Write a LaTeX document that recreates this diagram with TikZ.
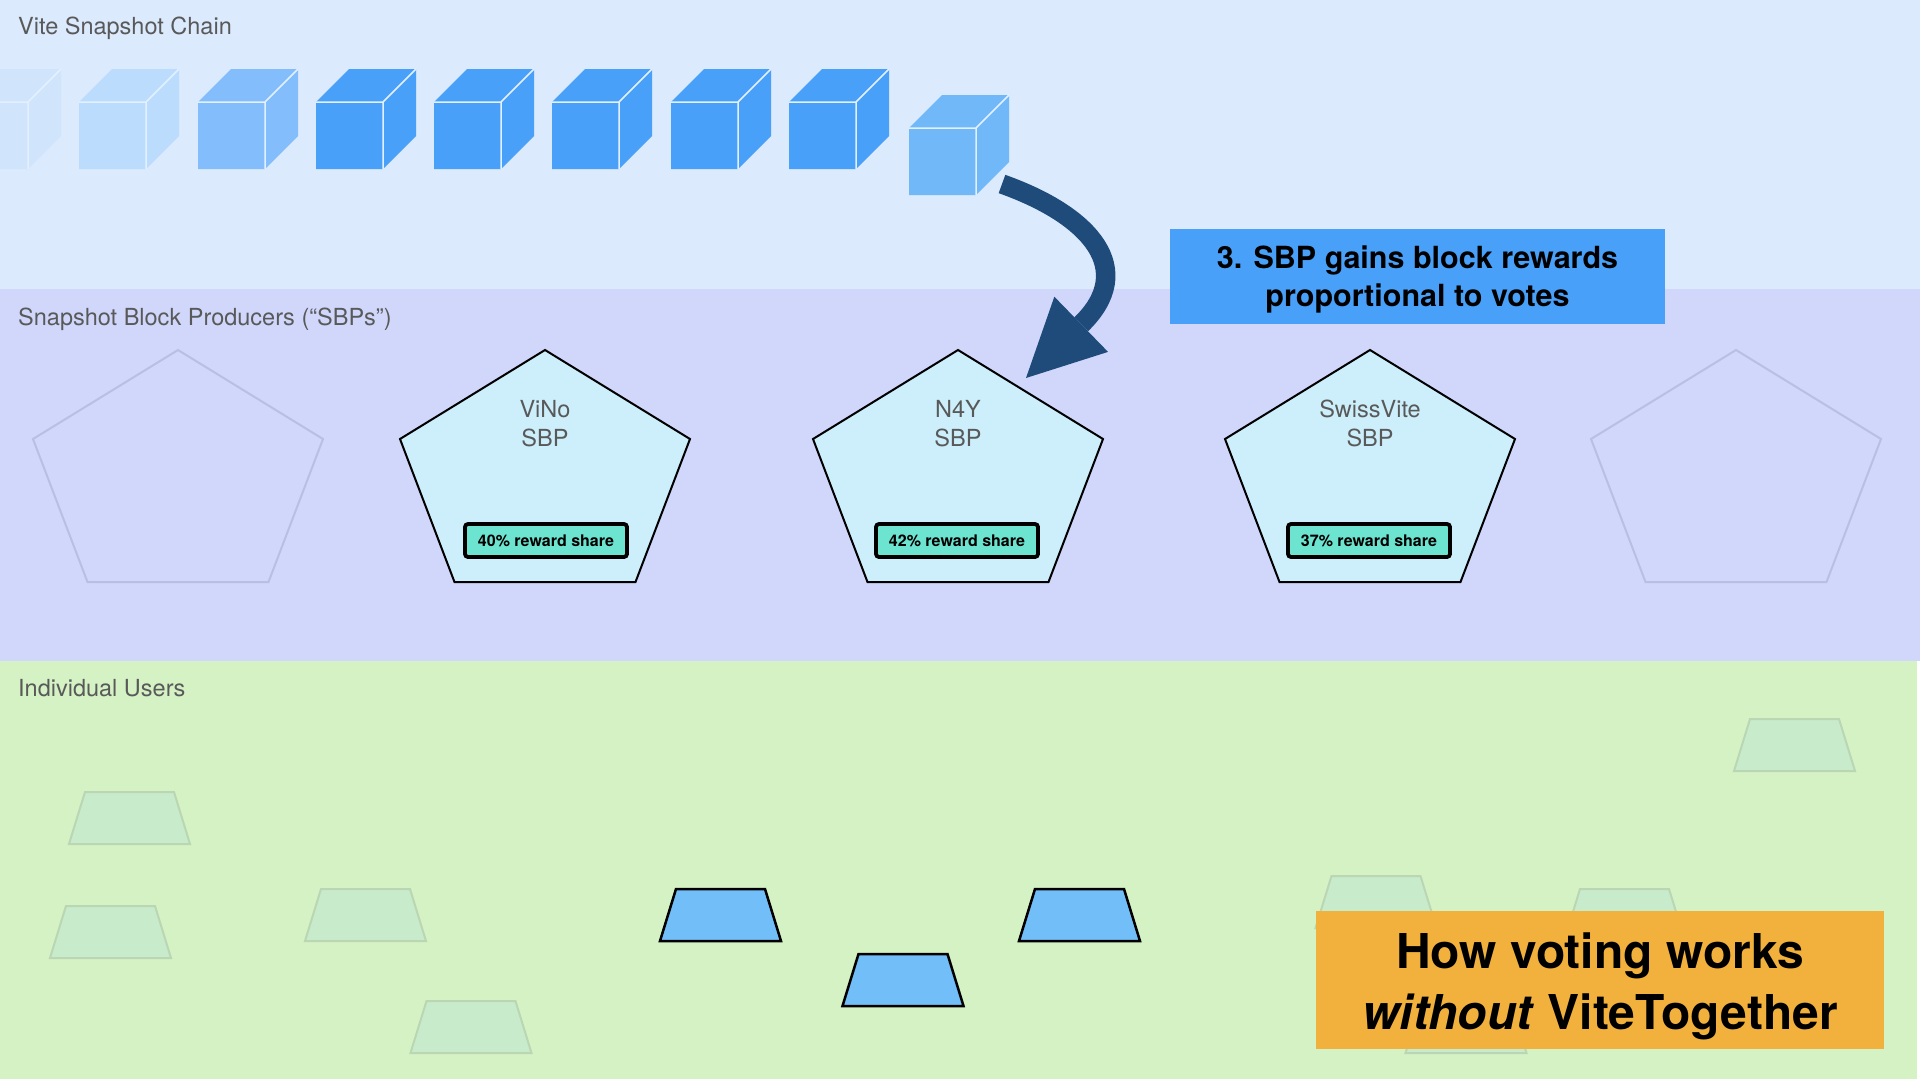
\documentclass[tikz,border=0pt]{standalone}
\usepackage{fontspec}
\setmainfont{TeX Gyre Heros}
\usepackage{xcolor}
\definecolor{colorChainBand}{HTML}{DBEAFD}
\definecolor{colorSbpBand}{HTML}{D0D7FB}
\definecolor{colorUserBand}{HTML}{D5F2C5}
\definecolor{colorBlockOld}{HTML}{D0E4FC}
\definecolor{colorBlockFade}{HTML}{BBDCFD}
\definecolor{colorBlockMid}{HTML}{84BDFB}
\definecolor{colorBlock}{HTML}{49A0F8}
\definecolor{colorBlockNew}{HTML}{71B8F8}
\definecolor{colorBlockEdge}{HTML}{E2F0FF}
\definecolor{colorArrow}{HTML}{1F4B7A}
\definecolor{colorSbp}{HTML}{CCEFFB}
\definecolor{colorSbpFaded}{HTML}{B9BFE3}
\definecolor{colorShare}{HTML}{6DE4D0}
\definecolor{colorUser}{HTML}{71BEF8}
\definecolor{colorUserFaded}{HTML}{C8EBCB}
\definecolor{colorUserFadedLine}{HTML}{BAD6B3}
\definecolor{colorTitle}{HTML}{F2B13C}
\definecolor{colorLabel}{HTML}{595959}
\usepackage{tikz}
\usetikzlibrary{arrows.meta}
\tikzset{
  bandLabel/.style={anchor=base west, inner sep=0pt, text=colorLabel, font=\fontsize{23.5bp}{28bp}\selectfont},
  blockEdge/.style={draw=colorBlockEdge, line width=1.5bp},
  sbp/.style={draw=black, line width=2bp, fill=colorSbp},
  sbpFaded/.style={draw=colorSbpFaded, line width=2bp},
  sbpName/.style={align=center, inner sep=0pt, text=colorLabel, font=\fontsize{23.5bp}{29bp}\selectfont},
  share/.style={draw=black, line width=3.8bp, fill=colorShare, rounded corners=3bp, minimum width=162bp, minimum height=33bp, inner sep=0pt, font=\bfseries\fontsize{16bp}{20bp}\selectfont},
  rewardBox/.style={fill=colorBlock, minimum width=495bp, minimum height=95bp, inner sep=0pt},
  rewardText/.style={align=center, inner sep=0pt, font=\bfseries\fontsize{30.5bp}{38bp}\selectfont},
  rewardArrow/.style={draw=colorArrow, line width=19.5bp, -{Triangle[length=77bp, width=77bp, line width=0pt]}},
  user/.style={draw=black, line width=2.5bp, fill=colorUser},
  userFaded/.style={draw=colorUserFadedLine, line width=2bp, fill=colorUserFaded},
  titleBox/.style={fill=colorTitle, minimum width=568bp, minimum height=138bp, inner sep=0pt},
  titleText/.style={align=center, inner sep=0pt, font=\bfseries\fontsize{48bp}{61bp}\selectfont}
}

\begin{document}
\begin{tikzpicture}[x=1bp, y=-1bp]
\useasboundingbox (0,0) rectangle (1920,1080);
% bands
\fill[colorChainBand] (0,0) rectangle (1920,289);
\fill[colorSbpBand] (0,289) rectangle (1920,661);
\fill[colorUserBand] (0,661) rectangle (1917,1079);
\node[bandLabel] (chainLabel) at (18,34) {Vite Snapshot Chain};
\node[bandLabel] (sbpLabel) at (18,325) {Snapshot Block Producers (“SBPs”)};
\node[bandLabel] (userLabel) at (18,696) {Individual Users};
% snapshot chain
\foreach \x/\y/\c in {-39/102/colorBlockOld, 79/102/colorBlockFade, 198/102/colorBlockMid, 316/102/colorBlock, 434/102/colorBlock, 552/102/colorBlock, 671/102/colorBlock, 789/102/colorBlock, 909/128/colorBlockNew} {
  \fill[\c] (\x,\y+67) -- (\x,\y) -- ++(33,-33) -- ++(67,0) -- ++(0,67) -- ++(-33,33) -- cycle;
  \draw[blockEdge] (\x,\y) -- ++(67,0) -- ++(0,67) (\x+67,\y) -- ++(33,-33);
}
\coordinate (chainTail) at (1002,184);
% producers
\foreach \cx/\s in {178/sbpFaded, 545/sbp, 958/sbp, 1370/sbp, 1736/sbpFaded}
  \draw[\s] (\cx,350) -- ++(145,89) -- ++(-54.5,143) -- ++(-181,0) -- ++(-54.5,-143) -- cycle;
\node[sbpName] (vino) at (545,423.5) {ViNo\\SBP};
\node[sbpName] (n4y) at (958,423.5) {N4Y\\SBP};
\node[sbpName] (swissVite) at (1370,423.5) {SwissVite\\SBP};
\node[share] (vinoShare) at (546,540.5) {40\% reward share};
\node[share] (n4yShare) at (957,540.5) {42\% reward share};
\node[share] (swissShare) at (1369,540.5) {37\% reward share};
\coordinate (n4yTip) at (1026,378);
\draw[rewardArrow] (chainTail) .. controls (1092,216) and (1137,270) .. (n4yTip);
\node[rewardBox] (reward) at (1417.5,276.5) {};
\node[rewardText] (rewardNote) at (1417.5,279) {3. SBP gains block rewards\\proportional to votes};
% users
\foreach \ux/\uy/\s in {129.5/792/userFaded, 110.5/906/userFaded, 365.5/889/userFaded, 471/1001/userFaded, 1794.5/719/userFaded, 1376/876/userFaded, 1624.5/889/userFaded, 1466/1001/userFaded, 720.5/889/user, 903/954/user, 1079.5/889/user}
  \draw[\s] (\ux-44.5,\uy) -- ++(89,0) -- ++(16,52) -- ++(-121,0) -- cycle;
% title
\node[titleBox] (title) at (1600,980) {};
\node[titleText] (titleNote) at (1600,986) {How voting works\\\textit{without} ViteTogether};
\end{tikzpicture}
\end{document}
